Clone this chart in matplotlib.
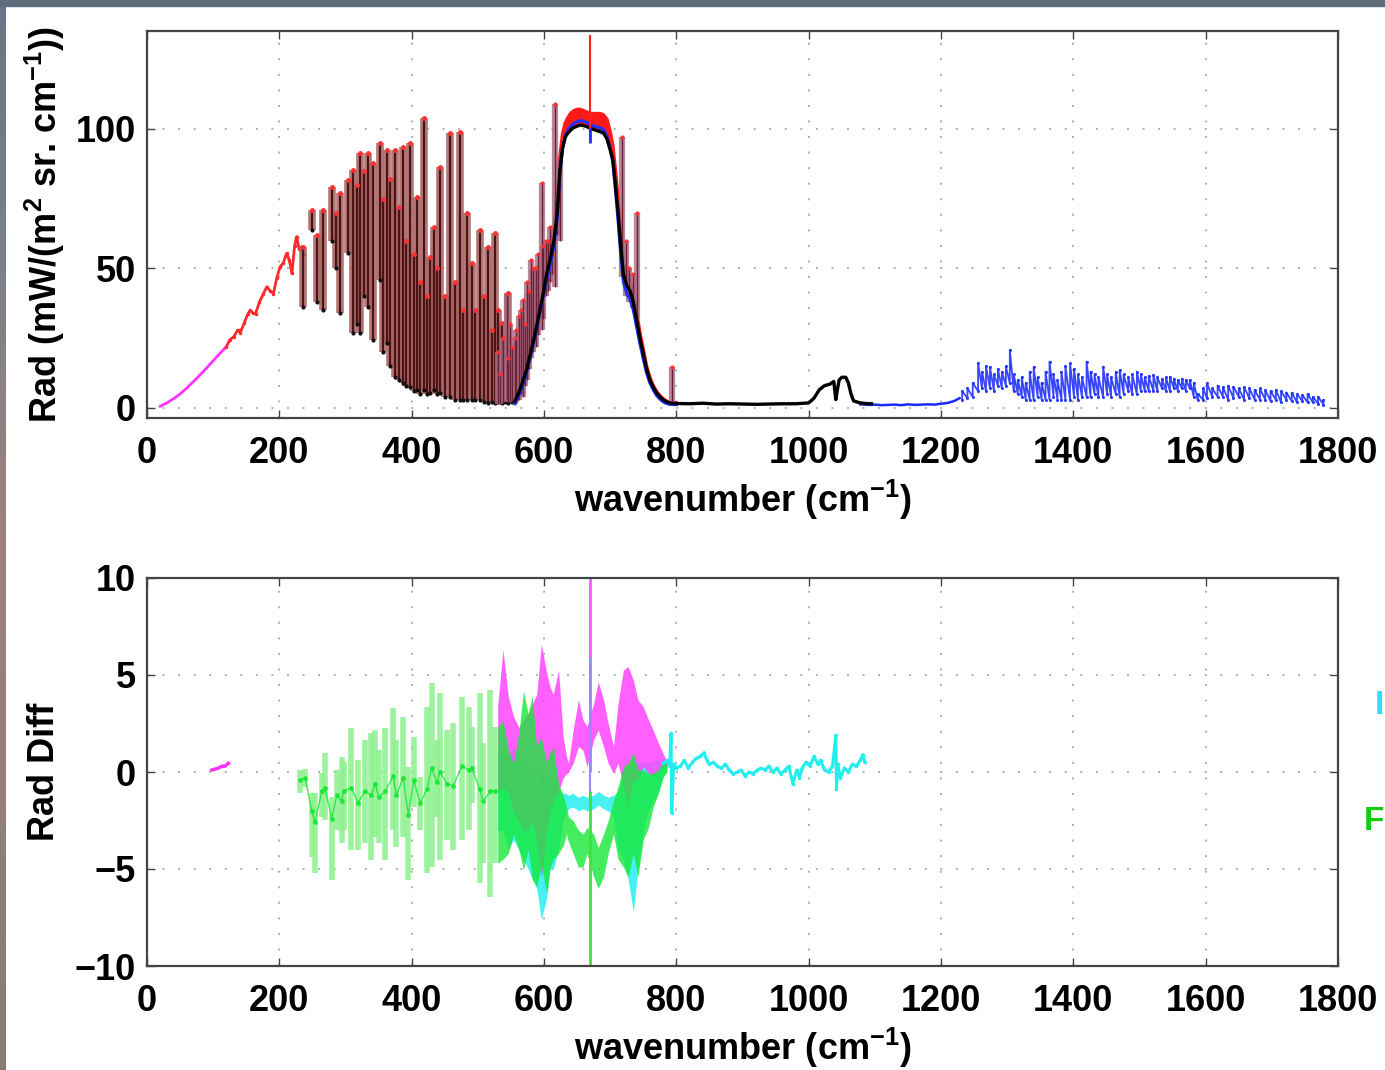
import numpy as np
import matplotlib
matplotlib.use("Agg")
import matplotlib.pyplot as plt
from matplotlib.patches import Rectangle
from matplotlib.colors import LinearSegmentedColormap

# ---------------- data ----------------
# top panel: measured / simulated radiance spectra
far_wn = [20, 30, 40, 50, 60, 70, 80, 90, 100, 110, 120]
far_rad = [0.6, 1.8, 3.3, 5.0, 7.1, 9.4, 11.8, 14.3, 16.9, 19.5, 22.0]

red_low_wn = [120, 125, 131, 137, 141, 147, 152, 156, 160, 164, 170, 176, 181, 186,
              191, 196, 201, 206, 211, 215, 219, 223, 226, 230, 234, 237]
red_low_rad = [22.0, 24.4, 25.5, 27.9, 27.0, 30.5, 33.5, 35.0, 34.0, 33.8, 38.0, 41.0,
               43.4, 42.0, 41.0, 46.5, 50.5, 52.0, 55.4, 53.0, 48.2, 58.0, 61.4, 57.0,
               57.8, 55.0]

line_wn = [236, 249, 257, 266, 279, 286, 292, 304, 312, 317, 322, 328, 334, 342, 352,
           357, 362, 368, 375, 381, 387, 392, 397, 403, 408, 413, 418, 423, 428, 433,
           438, 443, 450, 458, 465, 473, 478, 483, 491, 496, 503, 509, 516, 521, 526,
           531, 536, 541, 546, 551, 556]
line_top = [57.8, 71.0, 62.0, 71.0, 79.3, 70.0, 77.0, 81.7, 85.3, 80.0, 91.3, 85.0,
            91.3, 87.7, 94.9, 75.0, 92.5, 82.0, 92.5, 72.0, 93.7, 60.0, 94.9, 55.0,
            75.7, 45.0, 103.8, 40.0, 54.2, 65.0, 50.0, 86.5, 40.0, 98.5, 45.0, 99.0,
            35.0, 69.8, 51.9, 35.0, 63.8, 40.0, 57.8, 28.0, 62.6, 35.0, 30.4, 25.0,
            41.1, 20.0, 22.0]
line_bot = [36.3, 63.8, 38.0, 35.0, 60.0, 50.0, 34.0, 55.4, 26.8, 30.0, 26.8, 40.0,
            36.3, 24.4, 45.9, 20.0, 23.2, 15.0, 11.2, 10.0, 8.8, 8.0, 7.6, 6.0, 6.5,
            5.0, 6.5, 5.0, 5.3, 6.5, 5.0, 5.3, 4.0, 4.1, 3.0, 2.9, 3.0, 2.9, 2.9, 3.0,
            2.9, 2.0, 1.7, 2.0, 1.7, 2.0, 1.7, 2.0, 1.7, 2.0, 2.0]

band_wn = [556, 562, 568, 574, 580, 586, 592, 598, 604, 610, 615, 620, 624, 628, 632,
           636, 640, 645, 650, 655, 660, 665, 670, 675, 680, 685, 690, 695, 700, 704,
           708, 712, 716, 720, 725, 730, 735, 740, 745, 750, 755, 760, 765, 770, 775,
           780, 785, 790, 795, 800]
band_black = [2.5, 5.5, 9.5, 14, 20, 26, 33, 40, 48, 54, 60, 70, 85, 93, 97, 98.5,
              99.5, 100.5, 101, 101.4, 101.2, 100.8, 100.2, 99.8, 99.4, 99, 98.5, 96.5,
              92.5, 89, 80, 70, 58, 48, 44, 42, 38, 31.5, 25, 19.6, 14, 10, 7.5, 5.4,
              4, 3, 2.2, 1.8, 1.6, 1.6]
band_red = [3, 6.5, 11, 16, 23, 29, 37, 45, 52, 58, 64, 75, 90, 98, 102, 104, 105.5,
            106.5, 107, 107, 106.5, 106, 105.5, 105.5, 105.5, 105.5, 105, 103.5, 99, 94,
            85, 75, 62, 52, 48, 45, 41, 34, 27, 21, 15, 11, 8, 6, 4.5, 3.3, 2.5, 2, 1.8,
            1.7]
band_blue = [1.5, 4.5, 8.5, 13, 19, 25, 32, 39, 46, 52, 58, 68, 84, 93, 97.5, 99.5,
             100.8, 102, 102.6, 103, 102.8, 102.3, 101.5, 101, 100.8, 100.4, 99.8, 97.5,
             93, 88, 78, 67, 55, 45, 41, 39, 35, 29, 23, 17.5, 12.5, 9, 6.5, 4.5, 3.2,
             2.2, 1.6, 1.3, 1.2, 1.2]

spike_wn = [530, 534, 538, 543.6, 546, 549, 552, 556, 558, 562, 565, 568.7, 571, 575,
            578, 581, 584, 588, 591, 596.5, 599, 603, 606, 609, 612, 616.6, 620, 624,
            717.4, 724, 728, 734, 740, 792.7]
spike_top = [20, 12, 25, 41, 18, 30, 22, 25, 28, 33, 35, 38.7, 30, 45, 42, 53, 50, 50,
             55, 80.5, 58, 60, 60, 65, 55, 109, 75, 89, 97, 60, 50, 48, 70, 14.8]
spike_bot = [1.5, 1.5, 2, 3, 2, 2, 2, 2, 3, 3, 5, 4, 8, 10, 14, 18, 20, 22, 26, 28,
             32, 40, 42, 45, 48, 43.5, 62, 60, 47, 40, 38, 36, 32, 1.5]

black_win_wn = [800, 820, 840, 860, 880, 900, 920, 940, 960, 980, 1000, 1008, 1016,
                1024, 1032, 1038, 1041, 1043, 1046, 1050, 1056, 1060, 1064, 1068, 1078,
                1086, 1095]
black_win_rad = [1.6, 1.5, 1.7, 1.4, 1.5, 1.4, 1.3, 1.4, 1.5, 1.5, 1.8, 3.5, 6.5, 8.0,
                 8.5, 9.5, 3.0, 6.0, 10.0, 11.0, 11.0, 9.0, 5.0, 2.5, 1.8, 1.6, 1.5]

blue_flat_wn = [1078, 1090, 1100, 1110, 1120, 1130, 1140, 1150, 1160, 1170, 1180, 1190,
                1200, 1210, 1220, 1228]
blue_flat_rad = [1.3, 1.1, 1.2, 1.0, 1.1, 1.2, 1.0, 1.3, 1.1, 1.2, 1.3, 1.2, 1.5, 1.8,
                 2.5, 3.5]

blue_line_wn = [1232, 1240, 1248, 1256, 1262, 1268, 1274, 1280, 1286, 1292, 1298, 1304,
                1310, 1316, 1322, 1328, 1334, 1340, 1346, 1352, 1358, 1364, 1370, 1376,
                1382, 1388, 1395, 1401, 1407, 1413, 1420, 1426, 1432, 1438, 1445, 1451,
                1457, 1464, 1470, 1476, 1483, 1489, 1496, 1502, 1508, 1514, 1521, 1527,
                1534, 1540, 1546, 1552, 1558, 1564, 1570, 1576, 1582, 1588, 1596, 1602,
                1610, 1618, 1626, 1634, 1642, 1650, 1658, 1666, 1674, 1682, 1690, 1698,
                1706, 1714, 1722, 1730, 1738, 1746, 1754, 1762, 1770, 1778]
blue_line_top = [6, 7, 9, 16, 13, 15, 14.7, 12, 14, 13, 15, 20.8, 12, 10, 11, 9, 13,
                 14.7, 11, 9, 13, 16.6, 12, 10, 13, 15, 16, 14, 12, 11, 16.6, 13, 12, 11,
                 14.7, 12, 11, 13, 13.6, 12, 11, 12, 13, 12, 11, 11.5, 11.8, 11, 10.5, 11,
                 11.2, 10.5, 10, 10.5, 10, 10, 9, 5, 7, 8.8, 7, 8, 7.5, 8, 7.6, 7, 7.5, 7,
                 6.5, 7, 6.4, 6, 6.5, 6, 5.5, 5.5, 5, 4.7, 5, 4, 4, 2.8]
blue_line_bot = [3, 3.5, 4, 6, 7, 6, 7, 6, 8, 7, 8, 8.8, 6, 5, 4, 3, 3, 2.8, 4, 3, 3, 3,
                 4, 3, 3, 3, 3, 4, 3, 4, 4, 4, 5, 4, 4, 5, 4, 5, 4, 5, 6, 5, 5, 6, 6, 6,
                 6, 6, 7, 6, 6, 7, 6, 7, 6, 7, 4, 3, 3, 3.5, 4, 4, 4, 3, 3.5, 4, 3, 3.5,
                 3, 3, 3, 2.5, 3, 2, 3, 2.5, 2, 2.5, 2, 2, 1.5, 1.2]

# bottom panel: radiance differences
mag_small_wn = [98, 103, 108, 113, 118, 123]
mag_small = [0.1, 0.15, 0.2, 0.3, 0.3, 0.45]

grn_wn = [231, 239, 249, 254, 264, 269, 279, 287, 294, 297, 309, 319, 329, 339, 345,
          350, 360, 372, 377, 387, 395, 403, 413, 423, 430, 438, 443, 453, 463, 476,
          486, 491, 503, 508, 519, 526]
grn_top = [0.1, 0.18, -1.1, -1.1, -0.07, 0.96, -1.27, 0.1, 0.79, 0.5, 2.25, 0.62, 1.65,
           1.99, 2.16, 1.13, 2.25, 3.28, 1.65, 2.85, 0.27, 1.82, -0.24, 3.37, 4.57,
           1.65, 4.05, 2.16, 2.51, 3.88, 3.37, 2.34, 4.05, 1.48, 4.23, 2.34]
grn_bot = [-1.1, -0.76, -4.36, -5.2, -2.3, -2.47, -5.57, -2.99, -3.68, -2.99, -4.02,
           -4.02, -3.68, -4.54, -3.33, -3.68, -4.54, -2.99, -3.85, -3.33, -5.57, -1.79,
           -2.99, -5.2, -4.88, -2.3, -4.54, -3.5, -4.02, -3.5, -2.99, -1.61, -5.74,
           -4.71, -6.43, -4.71]
grn_core = [-0.4, -0.3, -2.0, -2.6, -1.0, -0.8, -2.4, -1.2, -1.5, -1.0, -0.8, -1.6,
            -1.0, -1.2, -0.6, -1.3, -1.0, -0.2, -1.2, -0.3, -2.2, -0.4, -1.6, -0.9,
            0.2, -0.5, 0.0, -0.6, -0.7, 0.3, 0.1, 0.2, -0.9, -1.5, -1.0, -1.0]

mid_wn = [530, 538, 546, 554, 562, 569, 576, 582, 589, 596, 604, 609, 614, 622, 629,
          634, 637, 644, 652, 659, 665, 675, 682, 690, 697, 705, 712, 720, 727, 735,
          742, 750, 758, 765, 773, 780, 786]
mag_hi = [3.4, 6.3, 3.9, 2.85, 2.3, 2.7, 3.0, 3.5, 4.0, 6.6, 5.1, 4.4, 4.0, 5.26, 1.82,
          0.8, 0.45, 2.16, 3.71, 2.68, 2.34, 3.54, 4.66, 3.71, 2.5, 1.31, 3.54, 5.26,
          5.43, 4.74, 3.71, 3.37, 2.68, 2.16, 1.48, 0.96, 0.5]
mag_lo = [-1.0, -0.76, -1.1, -2.0, -2.5, -3.0, -3.0, -2.5, -3.5, -5.4, -3.0, -2.0,
          -1.5, -1.0, -0.3, -0.1, 0.0, 0.45, 1.31, 1.13, 0.27, 1.65, 2.16, 1.31, 0.45,
          -0.07, 0.45, -0.76, -1.79, -0.41, -0.41, 0.27, -0.07, -0.24, 0.1, 0.27, 0.3]
grn2_hi = [2.3, 2.68, 1.13, 0.45, 2.0, 4.2, 3.0, 3.9, 1.3, 1.8, 0.45, 1.0, 1.3, -0.6,
           -1.2, -1.79, -2.3, -2.5, -3.0, -3.2, -2.85, -3.2, -3.9, -3.2, -2.5, -1.5,
           -0.76, 0.27, 0.45, 1.0, 0.1, 0.1, -0.07, -0.07, 0.1, 0.6, 0.4]
grn2_lo = [-4.7, -4.5, -4.2, -3.2, -4.0, -5.06, -4.0, -5.5, -5.9, -4.8, -6.25, -5.0,
           -4.5, -4.2, -3.8, -3.2, -3.6, -4.2, -4.9, -4.9, -4.2, -5.4, -6.0, -5.4, -4.2,
           -3.2, -4.5, -4.9, -5.4, -4.2, -5.4, -3.5, -2.85, -1.8, -1.1, -0.24, 0.0]
cyn_hi = [1.0, 1.0, 0.5, 1.5, 0.5, 0.5, 0.0, 0.0, -1.0, 0.0, -0.5, -0.5, -0.5, -1.0,
          -1.1, -1.1, -1.2, -1.1, -1.3, -1.2, -1.3, -1.2, -1.0, -1.2, -1.3, -1.2, -1.0,
          0.0, 0.0, 0.5, 0.5, 0.5, 0.5, 0.6, 0.6, 0.7, 0.7]
cyn_lo = [-3.0, -3.0, -4.0, -3.5, -4.0, -4.5, -5.0, -5.5, -6.0, -7.6, -6.5, -5.0, -5.0,
          -4.0, -2.5, -2.0, -1.9, -1.8, -2.0, -1.9, -2.0, -1.9, -1.7, -1.9, -2.0, -2.3,
          -4.0, -4.5, -5.5, -7.2, -5.0, -3.0, -2.0, -1.5, -1.0, -0.3, 0.2]

cyn_wn = [780, 786, 790, 792, 793, 796, 800, 806, 812, 818, 824, 830, 836, 842, 846, 850,
          856, 862, 868, 874, 880, 886, 892, 898, 904, 910, 916, 922, 928, 934, 940, 946,
          952, 958, 964, 970, 976, 982, 986, 990, 996, 1002, 1008, 1014, 1018, 1024,
          1030, 1036, 1041, 1042, 1044, 1048, 1054, 1060, 1066, 1072, 1078, 1082, 1085]
cyn_val = [0.45, 0.6, 0.3, 2.0, -2.1, 0.4, 0.2, 0.3, 0.6, 0.2, 0.5, 0.7, 0.8, 1.0, 0.6,
           0.4, 0.5, 0.3, 0.2, 0.4, 0.1, -0.1, 0.0, 0.1, -0.2, 0.0, -0.1, 0.1, 0.2, 0.1,
           0.3, 0.0, 0.2, -0.1, 0.1, 0.3, -0.6, 0.1, -0.3, 0.2, 0.5, 0.3, 0.8, 0.4, 0.6,
           0.1, 0.0, 0.3, 1.9, -0.9, 0.4, -0.3, 0.2, 0.0, 0.4, 0.3, 0.6, 0.9, 0.5]

xticks = [0, 200, 400, 600, 800, 1000, 1200, 1400, 1600, 1800]
top_yticks = [0, 50, 100]
bot_yticks = [-10, -5, 0, 5, 10]

# ---------------- style ----------------
plt.rcParams['font.family'] = ['Liberation Sans', 'DejaVu Sans']
plt.rcParams['font.weight'] = 'bold'
plt.rcParams['mathtext.fontset'] = 'custom'
for k in ['rm', 'it', 'bf', 'sf']:
    plt.rcParams['mathtext.' + k] = 'Liberation Sans:bold'
FS = 26

W, H = 1385, 1070
fig = plt.figure(figsize=(W / 100, H / 100), dpi=100)
fig.patch.set_facecolor('white')

# slide background strips
fig.patches.append(Rectangle((0, 1 - 6 / H), 1, 6 / H, transform=fig.transFigure,
                             color='#5f6e7c', zorder=0))
bg = fig.add_axes([0, 0, 6 / W, 1 - 6 / H])
cmap = LinearSegmentedColormap.from_list('bg', ['#687786', '#7b8189', '#a0827b',
                                                '#928079', '#887b73'])
bg.imshow(np.linspace(0, 1, 200).reshape(-1, 1), aspect='auto', cmap=cmap)
bg.axis('off')


def style(ax, yticks, ylim):
    ax.set_xlim(0, 1800)
    ax.set_ylim(*ylim)
    ax.set_xticks(xticks)
    ax.set_yticks(yticks)
    ax.tick_params(direction='in', top=True, right=True, length=6, width=1,
                   labelsize=FS, color='#444444')
    ax.tick_params(axis='x', pad=13)
    ax.tick_params(axis='y', pad=8)
    for s in ax.spines.values():
        s.set_color('#444444')
        s.set_linewidth(1.6)
    ax.grid(True, color='#b0b0b0', linestyle=(0, (1, 7)), linewidth=1.4)
    ax.set_axisbelow(True)
    for lab in ax.get_xticklabels() + ax.get_yticklabels():
        lab.set_fontweight('bold')


ax1 = fig.add_axes([147 / W, 1 - 418 / H, (1338 - 147) / W, (418 - 31) / H])
ax2 = fig.add_axes([147 / W, 1 - 966 / H, (1338 - 147) / W, (966 - 578) / H])
style(ax1, top_yticks, (-3.6, 135.1))
style(ax2, bot_yticks, (-10, 10))

# ---------------- top panel ----------------
ax1.plot(far_wn, far_rad, color='#ff33ff', lw=2)
ax1.plot(red_low_wn, red_low_rad, color='#ff2a2a', lw=2, marker='.', ms=3)
ax1.vlines(line_wn, line_bot, line_top, color='#a86060', lw=5.5, alpha=0.85)
ax1.vlines(line_wn, line_bot, line_top, color='#4a1414', lw=1.6)
ax1.plot(line_wn, line_top, ls='none', marker='.', ms=5, color='#ff3030')
ax1.plot(line_wn, line_bot, ls='none', marker='.', ms=4, color='#101010')
ax1.fill_between(band_wn, band_black, band_red, color='#ff1a1a', lw=0)
ax1.plot(band_wn, band_red, color='#ff1a1a', lw=2.5)
ax1.vlines(spike_wn, spike_bot, spike_top, color='#a86a80', lw=4.5, alpha=0.8)
ax1.vlines(spike_wn, spike_bot, spike_top, color='#6a2038', lw=1.0)
ax1.plot(spike_wn, spike_top, ls='none', marker='.', ms=4, color='#ff3030')
ax1.plot(band_wn, band_blue, color='#2030ff', lw=2.2)
ax1.plot(band_wn, band_black, color='black', lw=2.4)
ax1.vlines([669.5], [94.9], [133.7], color='#ff2020', lw=1.5)
ax1.vlines([669.5], [94.9], [100.5], color='#2030ff', lw=2)
ax1.plot(blue_flat_wn, blue_flat_rad, color='#1a2aff', lw=1.8)
bx = np.column_stack([blue_line_wn, blue_line_wn]).ravel()
by = np.column_stack([blue_line_bot, blue_line_top]).ravel()
ax1.plot(bx, by, color='#2233ff', lw=1.3, marker='.', ms=2.5, alpha=0.9)
ax1.plot(black_win_wn, black_win_rad, color='black', lw=2.4)
ax1.set_xlabel(r'wavenumber (cm$^{-1}$)', fontsize=FS, fontweight='bold')
ax1.xaxis.set_label_coords(0.5, -0.155)
ax1.xaxis.label.set_va('top')
ax1.set_ylabel(r'Rad (mW/(m$^2$ sr. cm$^{-1}$))', fontsize=FS, fontweight='bold')
ax1.yaxis.set_label_coords(-0.067, 0.5)

# ---------------- bottom panel ----------------
ax2.plot(mag_small_wn, mag_small, color='#ff33ff', lw=2.5)
ax2.vlines(grn_wn, grn_bot, grn_top, color='#8cf08c', lw=4, alpha=0.85)
ax2.plot(grn_wn, grn_core, color='#10e830', lw=1.0, marker='.', ms=5, alpha=0.8)
ax2.fill_between(mid_wn, cyn_lo, cyn_hi, color='#33f0f0', lw=0, alpha=0.9)
ax2.fill_between(mid_wn, mag_lo, mag_hi, color='#ff44ff', lw=0, alpha=0.85)
ax2.fill_between(mid_wn, grn2_lo, grn2_hi, color='#18e838', lw=0, alpha=0.8)
ax2.vlines([669], [0], [10], color='#ff55ff', lw=2)
ax2.vlines([669], [-1.5], [5.9], color='#9a88ff', lw=1.5)
ax2.vlines([669], [-10], [-1], color='#40e040', lw=2)
ax2.plot(cyn_wn, cyn_val, color='#22eeee', lw=2.2, marker='.', ms=3)
ax2.set_xlabel(r'wavenumber (cm$^{-1}$)', fontsize=FS, fontweight='bold')
ax2.xaxis.set_label_coords(0.5, -0.155)
ax2.xaxis.label.set_va('top')
ax2.set_ylabel('Rad Diff', fontsize=FS, fontweight='bold')
ax2.yaxis.set_label_coords(-0.071, 0.5)

# legend letters at the right edge of the slide (cut off in the original)
fig.text(1384 / W, 1 - 706 / H, 'I', color='#33ddff', fontsize=24,
         fontweight='bold', va='center', ha='right')
fig.text(1384 / W, 1 - 822 / H, 'F', color='#11cc11', fontsize=24,
         fontweight='bold', va='center', ha='right')

fig.savefig('out.png', dpi=100, facecolor='white')
